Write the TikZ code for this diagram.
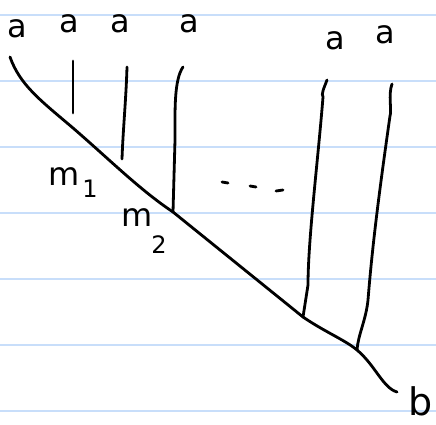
\documentclass[tikz,border=0pt]{standalone}
\usepackage{fontspec}
\setmainfont{DejaVu Sans}
\begin{document}
\begin{tikzpicture}[x=1pt,y=-1pt,
  ruled/.style={draw={rgb,255:red,200;green,222;blue,250}, line width=2pt},
  pen/.style={draw=black, line width=2.8pt, line cap=round, line join=round},
  lab/.style={inner sep=0pt, font=\fontsize{32}{32}\selectfont},
  sublab/.style={inner sep=0pt, font=\fontsize{24}{24}\selectfont}]
\useasboundingbox (0,0) rectangle (436,425);
\fill[white] (0,0) rectangle (436,425);
\foreach \yy in {15,81,147,213,279,345,411}
  \draw[ruled] (0,\yy) -- (436,\yy);
% labels
\node[lab] (a1) at (17,29) {a};
\node[lab] (a2) at (69,24) {a};
\node[lab] (a3) at (120,24) {a};
\node[lab] (a4) at (189,24) {a};
\node[lab] (a5) at (335,41) {a};
\node[lab] (a6) at (385,35) {a};
\node[inner sep=0pt, font=\fontsize{38}{38}\selectfont] (b) at (421,401) {b};
\node[lab] (m1) at (64,177) {m};
\node[sublab] (s1) at (90,189) {1};
\node[lab] (m2) at (137,218) {m};
\node[sublab] (s2) at (159,245) {2};
% main line
\coordinate (t0) at (10,57);
\coordinate (j1) at (73,128);
\coordinate (j3) at (173,212);
\coordinate (j4) at (303,317);
\coordinate (j5) at (357,350);
\coordinate (te) at (397,392);
\draw[pen] (t0) .. controls (20,85) and (40,100) .. (j1)
  .. controls (110,160) and (140,190) .. (j3)
  -- (j4)
  .. controls (325,332) and (345,340) .. (j5)
  .. controls (375,365) and (383,388) .. (te);
% vertical lines
\coordinate (v1t) at (73,61);
\coordinate (v1b) at (73,113);
\draw[pen] (v1t) -- (v1b);
\coordinate (v2t) at (127,67);
\coordinate (v2b) at (122,159);
\draw[pen] (v2t) .. controls (126,100) and (123,130) .. (v2b);
\coordinate (v3t) at (183,67);
\draw[pen] (v3t) .. controls (174,80) and (175,110) .. (175,140) -- (j3);
\coordinate (v4t) at (327,80);
\draw[pen] (v4t) .. controls (324,88) and (321,94) .. (323,97)
  .. controls (318,160) and (308,240) .. (308,285) -- (j4);
\coordinate (v5t) at (392,84);
\draw[pen] (v5t) .. controls (388,95) and (392,110) .. (390,116)
  .. controls (378,200) and (372,250) .. (368,300)
  .. controls (366,320) and (358,335) .. (j5);
% dots
\draw[pen] (222,182) -- (228,183);
\draw[pen] (250,186) -- (256,187);
\draw[pen] (276,191) -- (283,190);
\end{tikzpicture}
\end{document}
